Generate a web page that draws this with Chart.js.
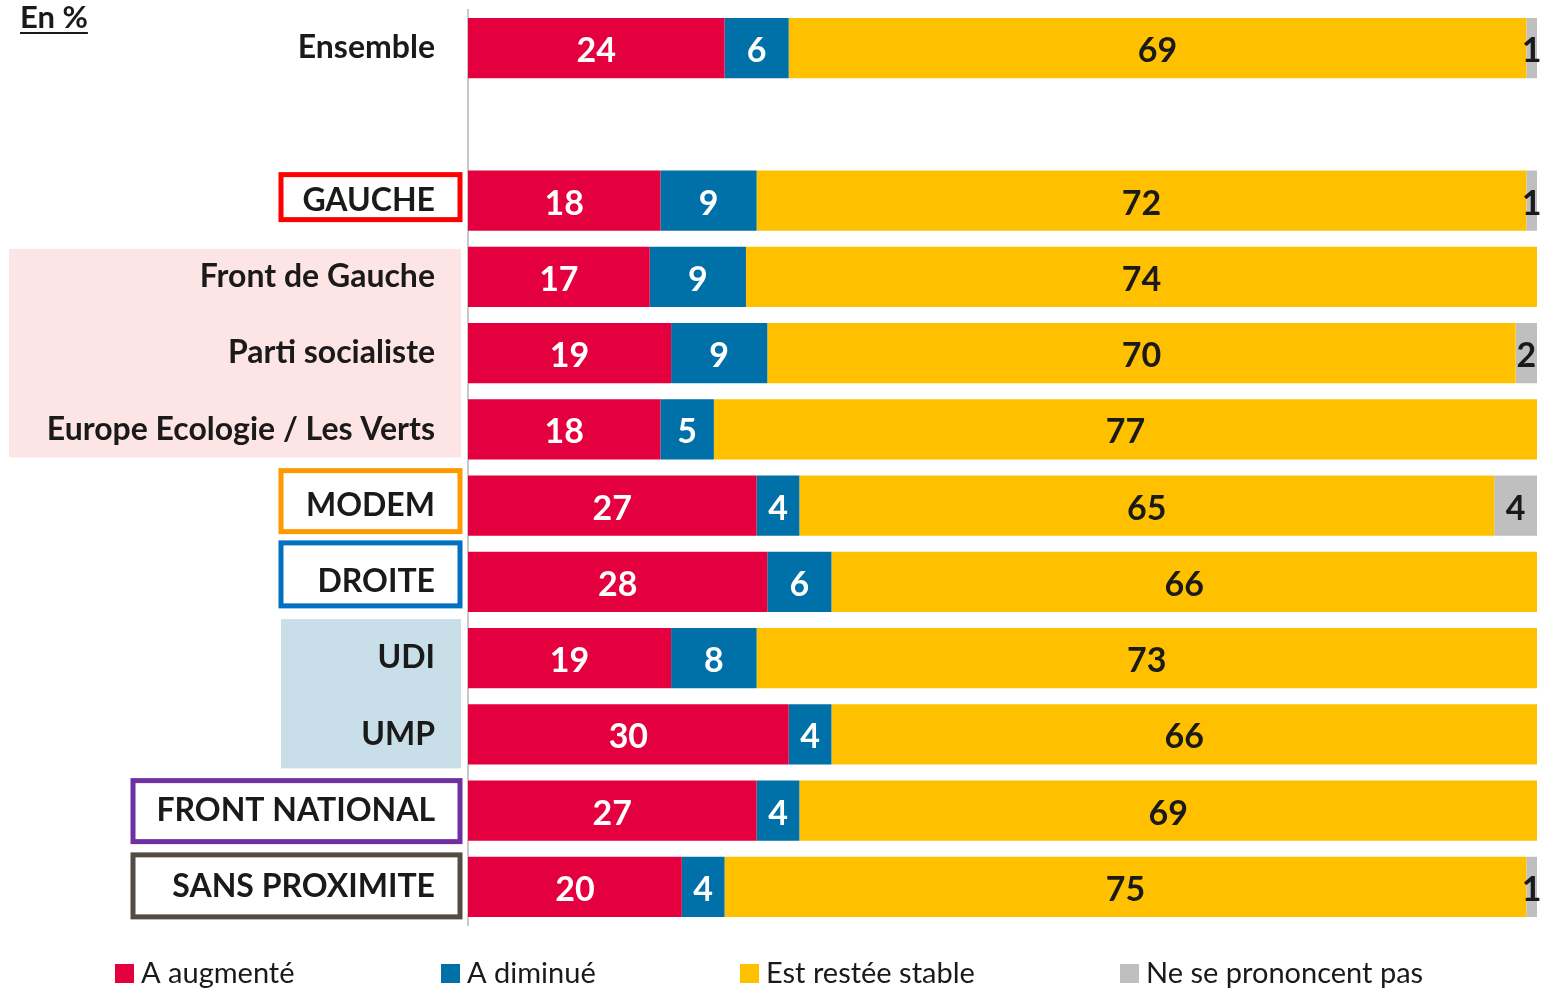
<!DOCTYPE html>
<html>
<head>
<meta charset="utf-8">
<script src="https://cdn.jsdelivr.net/npm/chart.js@4.4.1/dist/chart.umd.min.js"></script>
<style>
  html,body{margin:0;padding:0;background:#fff;}
  #wrap{position:relative;width:1542px;height:989px;}
</style>
</head>
<body>
<div id="wrap"><canvas id="main-chart"></canvas></div>
<script>
// categories (empty one = blank row under Ensemble)
const categories=['Ensemble','','GAUCHE','Front de Gauche','Parti socialiste','Europe Ecologie / Les Verts','MODEM','DROITE','UDI','UMP','FRONT NATIONAL','SANS PROXIMITE'];
const seriesLabels=['A augmenté','A diminué','Est restée stable','Ne se prononcent pas'];
const augmente=[24,null,18,17,19,18,27,28,19,30,27,20];
const diminue=[6,null,9,9,9,5,4,6,8,4,4,4];
const stable=[69,null,72,74,70,77,65,66,73,66,69,75];
const nsp=[1,null,1,0,2,0,4,0,0,0,0,1];

const colors=['#e4003f','#0070a8','#ffc000','#bfbfbf'];
const valueColors=['#ffffff','#ffffff','#1a1a1a','#1a1a1a'];
const labelFont='Lato';

// framed labels: [category, border colour, left x, top offset, bottom offset]
const framed=[
    ['GAUCHE','#ff0000',281,-26,19],
    ['MODEM','#ff9900',281,-35,26],
    ['DROITE','#0070c0',281,-39,24],
    ['FRONT NATIONAL','#7030a0',133,-30,31],
    ['SANS PROXIMITE','#524c42',133,-32,30]
];
// shaded groups: [first category, last category, left x, top offset, bottom offset, colour]
const shaded=[
    ['Front de Gauche','Europe Ecologie / Les Verts',9,-28,28,'#fde5e5'],
    ['UDI','UMP',281,-39,34,'#c8dfea']
];
const legendX=[115,441,740,1120];

const decorPlugin={
    id:'decor',
    beforeDraw(chart){
        const ctx=chart.ctx;
        const y=chart.scales.y;
        ctx.save();
        shaded.forEach(([a,b,left,t,bo,col])=>{
            const y1=y.getPixelForValue(categories.indexOf(a))+t;
            const y2=y.getPixelForValue(categories.indexOf(b))+bo;
            ctx.fillStyle=col;
            ctx.fillRect(left,y1,461-left,y2-y1);
        });
        framed.forEach(([name,col,left,t,bo])=>{
            const cy=y.getPixelForValue(categories.indexOf(name));
            ctx.strokeStyle=col;
            ctx.lineWidth=5;
            ctx.strokeRect(left,cy+t,460-left,bo-t);
        });
        // "En %"
        ctx.fillStyle='#1a1a1a';
        ctx.font='bold 31px '+labelFont;
        ctx.textBaseline='alphabetic';
        ctx.textAlign='left';
        ctx.fillText('En %',20,28);
        const w=ctx.measureText('En %').width;
        ctx.fillRect(20,32,w,2);
        ctx.restore();
    },
    afterDatasetsDraw(chart){
        const ctx=chart.ctx;
        ctx.save();
        ctx.font='bold 34px '+labelFont;
        ctx.textAlign='center';
        ctx.textBaseline='middle';
        chart.data.datasets.forEach((ds,i)=>{
            chart.getDatasetMeta(i).data.forEach((bar,j)=>{
                const v=ds.data[j];
                if(!v) return;
                ctx.fillStyle=valueColors[i];
                ctx.fillText(String(v),(bar.x+bar.base)/2,bar.y+3);
            });
        });
        ctx.restore();
    },
    afterDraw(chart){
        const ctx=chart.ctx;
        ctx.save();
        ctx.font='29px '+labelFont;
        ctx.textBaseline='middle';
        ctx.textAlign='left';
        chart.data.datasets.forEach((ds,i)=>{
            ctx.fillStyle=ds.backgroundColor;
            ctx.fillRect(legendX[i],964,19,19);
            ctx.fillStyle='#1a1a1a';
            ctx.fillText(ds.label,legendX[i]+26,974);
        });
        ctx.restore();
    }
};

function createChart(){
    const ctx=document.getElementById('main-chart').getContext('2d');
    const series=[augmente,diminue,stable,nsp];
    new Chart(ctx,{
        type:'bar',
        data:{
            labels:categories,
            datasets:series.map((d,i)=>({
                label:seriesLabels[i],
                data:d,
                backgroundColor:colors[i],
                borderWidth:0,
                barPercentage:0.79,
                categoryPercentage:1
            }))
        },
        options:{
            indexAxis:'y',
            responsive:true,
            maintainAspectRatio:false,
            animation:false,
            layout:{padding:{left:0,right:5,top:10,bottom:64}},
            plugins:{legend:{display:false},tooltip:{enabled:false}},
            scales:{
                x:{stacked:true,min:0,max:100,display:false},
                y:{
                    stacked:true,
                    grid:{display:false,drawTicks:false},
                    border:{display:true,color:'#c8c8c8',width:2},
                    afterFit:(s)=>{
                        s.width=468;
                        s.paddingTop=0;
                        s.paddingBottom=0;
                    },
                    ticks:{
                        padding:33,
                        color:'#1a1a1a',
                        font:{family:labelFont,size:32,weight:'bold'}
                    }
                }
            }
        },
        plugins:[decorPlugin]
    });
}

createChart();
</script>
</body>
</html>
